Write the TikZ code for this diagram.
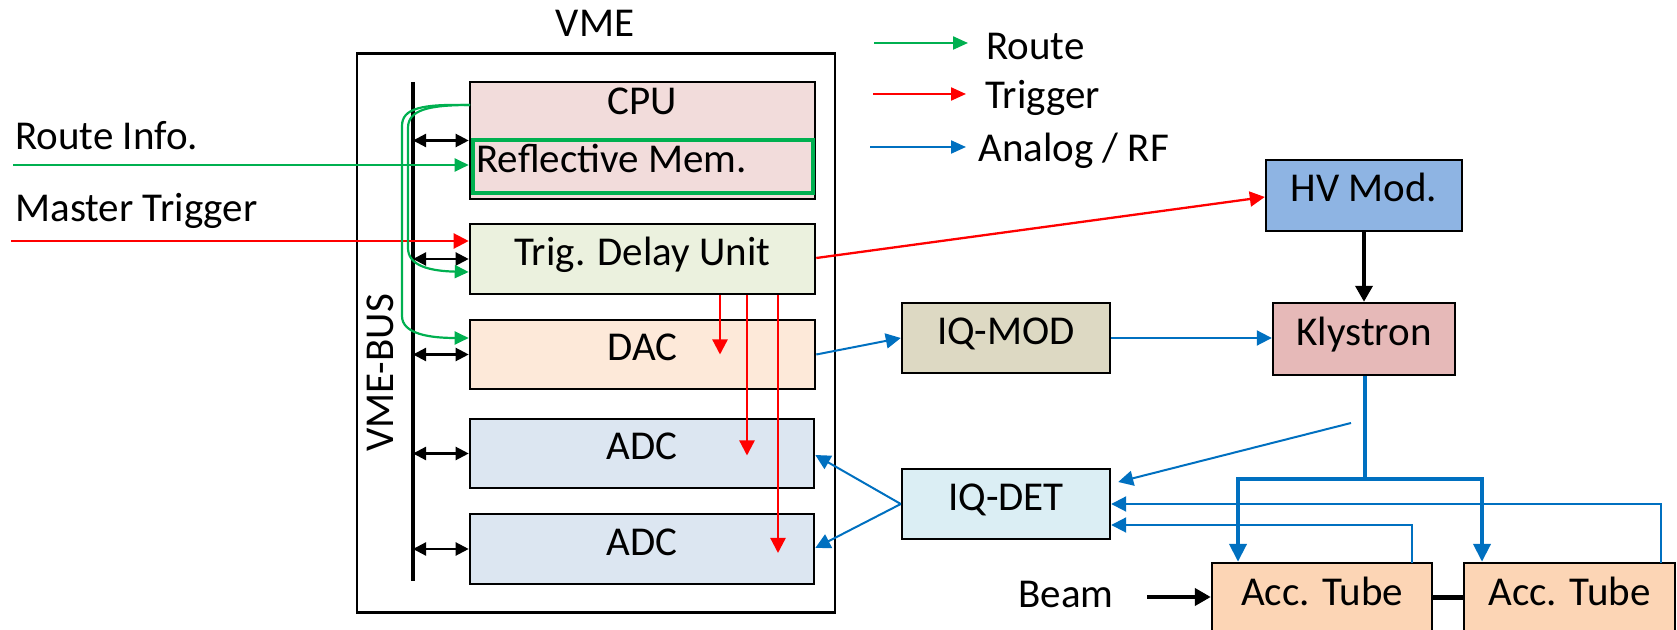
\documentclass[tikz,border=0pt]{standalone}
\usepackage{fontspec}
\setmainfont{Carlito}
\usetikzlibrary{arrows.meta,calc}
\definecolor{rgreen}{HTML}{00B050}
\definecolor{rred}{HTML}{FF0000}
\definecolor{rblue}{HTML}{0070C0}
\definecolor{cpuc}{HTML}{F2DCDB}
\definecolor{tduc}{HTML}{EBF1DE}
\definecolor{dacc}{HTML}{FDE9D9}
\definecolor{adcc}{HTML}{DCE6F1}
\definecolor{iqmodc}{HTML}{DDD9C3}
\definecolor{klyc}{HTML}{E6B9B8}
\definecolor{hvc}{HTML}{8EB4E3}
\definecolor{iqdetc}{HTML}{DBEEF4}
\definecolor{tubec}{HTML}{FCD5B5}
\begin{document}
\begin{tikzpicture}[x=0.5pt,y=-0.5pt,
  every node/.style={font=\fontsize{20.5pt}{24pt}\selectfont, inner sep=0pt},
  box/.style={draw=black, line width=1.3pt, text height=0.63em, text depth=0pt},
  greenarr/.style={draw=rgreen, line width=1.1pt, -{Triangle[length=7pt,width=6.5pt]}},
  redarr/.style={draw=rred, line width=1.15pt, -{Triangle[length=7.5pt,width=7.5pt]}},
  busarr/.style={draw=black, line width=1.1pt, {Triangle[length=6.5pt,width=6.5pt]}-{Triangle[length=6.5pt,width=6.5pt]}},
  bluearr/.style={draw=rblue, line width=1pt, -{Triangle[length=7.5pt,width=7.5pt]}},
  bluethick/.style={draw=rblue, line width=2pt},
  bluethickarr/.style={draw=rblue, line width=2pt, -{Triangle[length=9pt,width=8.5pt]}},
  blackarr/.style={draw=black, line width=1.8pt, -{Triangle[length=8pt,width=8.5pt]}},
  legarr/.style={line width=1.1pt, -{Triangle[length=7.5pt,width=6.5pt]}}
]
\useasboundingbox (0,0) rectangle (1677,630);

% VME crate
\node[draw=black, line width=1.2pt, minimum width=239pt, minimum height=279.5pt] (vme) at (596,333) {};
\node[anchor=base] (vmetitle) at (595,37) {VME};
\coordinate (bustop) at (413,82);
\coordinate (busbot) at (413,581);
\draw[line width=1.7pt] (bustop) -- (busbot);
\node[rotate=90, text height=0.63em, text depth=0pt] (vmebus) at (387.5,373) {VME-BUS};

% VME modules
\node[box, fill=cpuc, minimum width=172.5pt, minimum height=58.5pt] (cpu) at (642.5,140.5) {};
\node[text height=0.63em, text depth=0pt] (cputxt) at (642.5,108.5) {CPU};
\node[draw=rgreen, line width=1.6pt, minimum width=170pt, minimum height=26.5pt] (rmem) at (643,166.5) {};
\node[anchor=west, text height=0.63em, text depth=0pt] (rmemtxt) at (476,166) {Reflective Mem.};
\node[box, fill=tduc, minimum width=172.5pt, minimum height=35pt] (tdu) at (642.5,259) {Trig. Delay Unit};
\node[box, fill=dacc, minimum width=172.5pt, minimum height=34.5pt] (dac) at (642.5,354.5) {DAC};
\node[box, fill=adcc, minimum width=172pt, minimum height=34.5pt] (adc1) at (642,453.5) {ADC};
\node[box, fill=adcc, minimum width=172pt, minimum height=35pt] (adc2) at (642,549) {ADC};

% bus arrows
\draw[busarr] (cpu.west -| bustop) -- (cpu.west);
\draw[busarr] (tdu.west -| bustop) -- (tdu.west);
\draw[busarr] (dac.west -| bustop) -- (dac.west);
\draw[busarr] (adc1.west -| bustop) -- (adc1.west);
\draw[busarr] (adc2.west -| bustop) -- (adc2.west);

% external inputs
\node[anchor=base west] (routeinfo) at (15,150) {Route Info.};
\node[anchor=base west] (mastertrig) at (15,222) {Master Trigger};
\coordinate (ri) at (13,165);
\coordinate (mt) at (11,241);
\draw[greenarr] (ri) -- (ri -| cpu.west);
\draw[redarr] (mt) -- (mt -| tdu.west);

% route curves from CPU
\coordinate (g0) at (470,105);
\draw[greenarr] (g0) .. controls (428,105) and (408,110) .. (408,128) -- (408,248)
  .. controls (408,266) and (430,271) .. ([yshift=-6.5pt]tdu.west);
\draw[greenarr] (g0) .. controls (422,104) and (402,108) .. (402,126) -- (402,316)
  .. controls (402,334) and (430,338) .. ([yshift=8.25pt]dac.west);

% trigger distribution
\draw[redarr] ([xshift=38.75pt]tdu.south) -- ([xshift=38.75pt]dac.center);
\draw[redarr] ([xshift=52.25pt]tdu.south) -- ([xshift=52.5pt,yshift=-1pt]adc1.center);
\draw[redarr] ([xshift=67.75pt]tdu.south) -- ([xshift=68pt,yshift=-2pt]adc2.center);

% right side
\node[box, line width=1.2pt, fill=hvc, minimum width=98pt, minimum height=35.5pt] (hv) at (1364,195.5) {HV Mod.};
\node[box, line width=1.2pt, fill=iqmodc, minimum width=104pt, minimum height=35pt] (iqmod) at (1006,338) {IQ-MOD};
\node[box, line width=1.2pt, fill=klyc, minimum width=91pt, minimum height=36pt] (kly) at (1364,339) {Klystron};
\node[box, line width=1.2pt, fill=iqdetc, minimum width=104pt, minimum height=35pt] (iqdet) at (1006,504) {IQ-DET};
\node[box, line width=1.2pt, fill=tubec, minimum width=110pt, minimum height=36pt] (tube1) at (1322,599) {Acc. Tube};
\node[box, line width=1.2pt, fill=tubec, minimum width=105.5pt, minimum height=36pt] (tube2) at (1569.5,599) {Acc. Tube};

\draw[redarr] ([yshift=0.5pt]tdu.east) -- ([yshift=-0.75pt]hv.west);
\draw[blackarr] (hv.south) -- (kly.north);
\draw[bluearr] (dac.east) -- (iqmod.west);
\draw[bluearr] (iqmod.east) -- (iqmod.east -| kly.west);

% klystron output split
\coordinate (ksplit) at (1365,479);
\coordinate (b1) at (1238,479);
\coordinate (b2) at (1482,479);
\draw[bluethick] (kly.south -| ksplit) -- (ksplit);
\draw[bluethick, line cap=rect] (b1) -- (b2);
\draw[bluethickarr] (b1) -- (b1 |- tube1.north);
\draw[bluethickarr] (b2) -- (b2 |- tube2.north);

% pickups to IQ-DET
\coordinate (kd) at (1351,423);
\draw[bluearr] (kd) -- ([xshift=3.5pt,yshift=11pt]iqdet.east);
\coordinate (f2) at (1661,563);
\coordinate (f1) at (1412,563);
\draw[bluearr] (f2) -- (1661,504) -- (iqdet.east);
\draw[bluearr] (f1) -- (1412,525) -- ([yshift=-10.5pt]iqdet.east);

% IQ-DET to ADCs
\draw[bluearr] (iqdet.west) -- ([yshift=-0.75pt]adc1.east);
\draw[bluearr] (iqdet.west) -- ([yshift=0.5pt]adc2.east);

% beam
\node[anchor=base] (beam) at (1066,608) {Beam};
\coordinate (bs) at (1147,597);
\draw[blackarr, line width=2pt] (bs) -- (bs -| tube1.west);
\coordinate (tc) at (0,598);
\draw[line width=2.5pt] (tube1.east |- tc) -- (tube2.west |- tc);

% legend
\coordinate (l1s) at (874,43);
\coordinate (l1e) at (968,43);
\coordinate (l2s) at (873,94);
\coordinate (l2e) at (966,94);
\coordinate (l3s) at (870,147);
\coordinate (l3e) at (966,147);
\draw[legarr, rgreen] (l1s) -- (l1e);
\draw[legarr, rred] (l2s) -- (l2e);
\draw[legarr, rblue] (l3s) -- (l3e);
\node[anchor=base west] (legroute) at (986,60) {Route};
\node[anchor=base west] (legtrig) at (985,109) {Trigger};
\node[anchor=base west] (legana) at (978,162) {Analog / RF};
\end{tikzpicture}
\end{document}
